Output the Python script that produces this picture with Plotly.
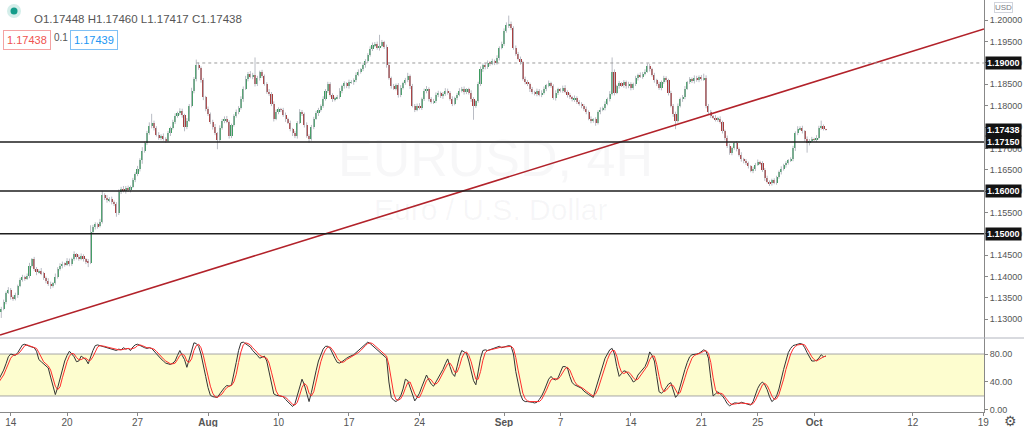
import plotly.graph_objects as go
from plotly.subplots import make_subplots

# EURUSD 4H closes, one per bar
closes = [
    1.1318, 1.1325, 1.1340, 1.1362, 1.1368, 1.1352, 1.1348, 1.1356, 1.1378, 1.1392,
    1.1398, 1.1395, 1.1402, 1.1425, 1.1440, 1.1418, 1.1410, 1.1412, 1.1408, 1.1396,
    1.1390, 1.1383, 1.1378, 1.1384, 1.1400, 1.1418, 1.1425, 1.1430, 1.1428, 1.1437,
    1.1429, 1.1440, 1.1452, 1.1446, 1.1442, 1.1448, 1.1440, 1.1436, 1.1432, 1.1505,
    1.1515, 1.1522, 1.1518, 1.1528, 1.1590, 1.1585, 1.1578, 1.1582, 1.1575, 1.1570,
    1.1548, 1.1598, 1.1605, 1.1600, 1.1608, 1.1602, 1.1610, 1.1625, 1.1640, 1.1652,
    1.1672, 1.1695, 1.1712, 1.1735, 1.1752, 1.1760, 1.1748, 1.1732, 1.1725, 1.1730,
    1.1722, 1.1718, 1.1735, 1.1748, 1.1762, 1.1775, 1.1782, 1.1788, 1.1778, 1.1750,
    1.1765, 1.1800, 1.1835, 1.1862, 1.1895, 1.1888, 1.1860, 1.1820, 1.1792, 1.1780,
    1.1762, 1.1750, 1.1735, 1.1720, 1.1748, 1.1765, 1.1770, 1.1762, 1.1728, 1.1755,
    1.1775, 1.1785, 1.1795, 1.1815, 1.1840, 1.1862, 1.1875, 1.1868, 1.1872, 1.1850,
    1.1865, 1.1878, 1.1870, 1.1850, 1.1832, 1.1828, 1.1805, 1.1770, 1.1785, 1.1792,
    1.1790, 1.1778, 1.1768, 1.1760, 1.1745, 1.1735, 1.1728, 1.1760, 1.1785, 1.1780,
    1.1755, 1.1730, 1.1722, 1.1750, 1.1770, 1.1782, 1.1790, 1.1800, 1.1815, 1.1835,
    1.1850, 1.1825, 1.1815, 1.1818, 1.1820, 1.1835, 1.1845, 1.1852, 1.1845, 1.1855,
    1.1855, 1.1860, 1.1872, 1.1880, 1.1885, 1.1895, 1.1905, 1.1918, 1.1932, 1.1942,
    1.1945, 1.1935, 1.1940, 1.1948, 1.1938, 1.1895, 1.1865, 1.1845, 1.1840, 1.1848,
    1.1825, 1.1842, 1.1852, 1.1860, 1.1870, 1.1845, 1.1800, 1.1790, 1.1800, 1.1795,
    1.1815, 1.1835, 1.1840, 1.1815, 1.1808, 1.1812, 1.1825, 1.1830, 1.1822, 1.1828,
    1.1835, 1.1830, 1.1815, 1.1805, 1.1818, 1.1825, 1.1835, 1.1840, 1.1832, 1.1838,
    1.1830, 1.1815, 1.1800, 1.1810, 1.1850, 1.1885, 1.1895, 1.1890, 1.1900, 1.1898,
    1.1905, 1.1900, 1.1912, 1.1935, 1.1945, 1.1975, 1.1988, 1.1992, 1.1982, 1.1935,
    1.1922, 1.1910, 1.1902, 1.1862, 1.1855, 1.1850, 1.1838, 1.1832, 1.1828, 1.1835,
    1.1825, 1.1830, 1.1840, 1.1848, 1.1852, 1.1845, 1.1818, 1.1830, 1.1838, 1.1835,
    1.1842, 1.1832, 1.1825, 1.1820, 1.1815, 1.1818, 1.1808, 1.1805, 1.1800, 1.1792,
    1.1785, 1.1770, 1.1765, 1.1768, 1.1760, 1.1785, 1.1790, 1.1795, 1.1805, 1.1815,
    1.1828, 1.1880, 1.1830, 1.1845, 1.1852, 1.1848, 1.1855, 1.1845, 1.1850, 1.1842,
    1.1850, 1.1865, 1.1872, 1.1868, 1.1875, 1.1880, 1.1892, 1.1885, 1.1872, 1.1860,
    1.1850, 1.1842, 1.1855, 1.1865, 1.1860, 1.1830, 1.1800, 1.1780, 1.1765, 1.1800,
    1.1815, 1.1820, 1.1840, 1.1855, 1.1862, 1.1858, 1.1865, 1.1860, 1.1868, 1.1862,
    1.1865, 1.1800, 1.1785, 1.1775, 1.1772, 1.1768, 1.1770, 1.1762, 1.1740, 1.1725,
    1.1705, 1.1690, 1.1700, 1.1712, 1.1698, 1.1685, 1.1675, 1.1670, 1.1665, 1.1658,
    1.1648, 1.1652, 1.1662, 1.1668, 1.1665, 1.1650, 1.1630, 1.1622, 1.1618, 1.1625,
    1.1620, 1.1632, 1.1645, 1.1652, 1.1660, 1.1665, 1.1672, 1.1675, 1.1700, 1.1735,
    1.1745, 1.1748, 1.1740, 1.1722, 1.1712, 1.1718, 1.1722, 1.1720, 1.1725, 1.1748,
    1.1752, 1.1745, 1.17438,
]
first_open = 1.1312

# wick lengths in pips above the body top / below the body bottom
wick_up = [
    5, 4, 6, 3, 7, 5, 4, 6, 3, 5,   6, 4, 5, 7, 3, 6, 4, 5, 8, 3,
    4, 6, 5, 3, 7, 4, 6, 5, 3, 6,   5, 4, 7, 3, 5, 6, 4, 3, 5, 15,
    6, 5, 4, 7, 10, 5, 6, 4, 5, 3,  4, 6, 5, 7, 4, 5, 3, 6, 4, 7,
    5, 8, 4, 6, 9, 21, 5, 4, 6, 3,  5, 4, 6, 3, 5, 7, 4, 6, 5, 3,
    6, 4, 7, 5, 13, 6, 4, 5, 3, 6,  4, 5, 7, 3, 6, 4, 5, 6, 4, 3,
    5, 6, 4, 7, 5, 8, 4, 6, 5, 41,  5, 4, 6, 3, 5, 7, 4, 5, 6, 4,
    3, 5, 6, 4, 5, 3, 6, 4, 7, 5,   4, 6, 3, 5, 4, 6, 5, 3, 7, 4,
    6, 5, 4, 3, 5, 6, 4, 5, 3, 6,   5, 4, 6, 5, 3, 6, 4, 5, 7, 6,
    4, 5, 26, 6, 4, 5, 7, 3, 6, 4,  5, 6, 4, 5, 7, 3, 6, 4, 5, 6,
    4, 5, 6, 3, 5, 4, 6, 5, 3, 4,   6, 5, 4, 7, 3, 5, 6, 4, 5, 3,
    4, 6, 5, 3, 6, 7, 4, 5, 6, 4,   5, 3, 6, 4, 5, 6, 7, 19, 5, 4,
    6, 4, 5, 3, 6, 5, 4, 6, 3, 5,   4, 6, 5, 3, 7, 4, 5, 6, 4, 3,
    5, 6, 4, 5, 3, 6, 4, 5, 3, 4,   6, 4, 5, 3, 5, 4, 6, 3, 5, 4,
    6, 33, 5, 4, 6, 3, 5, 4, 6, 5,  4, 5, 3, 6, 4, 5, 7, 6, 4, 5,
    3, 6, 4, 5, 4, 3, 5, 4, 6, 5,   4, 5, 6, 3, 5, 4, 6, 5, 3, 4,
    10, 6, 4, 5, 3, 6, 4, 5, 3, 4,  5, 6, 4, 3, 5, 4, 6, 3, 5, 4,
    3, 5, 4, 6, 3, 5, 4, 6, 3, 4,   5, 4, 3, 6, 4, 5, 3, 4, 6, 5,
    7, 4, 5, 3, 6, 4, 5, 3, 6, 5,   13, 4, 1,
]
wick_dn = [
    6, 15, 4, 5, 3, 6, 5, 4, 6, 3,  4, 5, 3, 6, 4, 5, 7, 3, 5, 4,
    6, 5, 7, 4, 3, 5, 4, 6, 5, 3,   5, 4, 3, 6, 5, 4, 5, 7, 10, 3,
    4, 5, 6, 3, 4, 6, 5, 4, 6, 5,   8, 4, 5, 3, 6, 4, 5, 3, 4, 5,
    6, 8, 5, 4, 3, 5, 6, 4, 5, 6,   4, 5, 3, 6, 4, 5, 3, 4, 6, 10,
    5, 3, 4, 6, 5, 4, 6, 7, 5, 4,   5, 6, 4, 22, 5, 4, 6, 3, 5, 4,
    4, 3, 5, 4, 6, 3, 5, 4, 6, 5,   4, 6, 5, 3, 4, 5, 6, 7, 4, 5,
    5, 4, 6, 3, 5, 6, 4, 5, 3, 4,   6, 5, 9, 4, 5, 3, 6, 4, 5, 3,
    5, 4, 6, 5, 3, 4, 6, 5, 4, 5,   4, 6, 5, 3, 5, 4, 6, 5, 3, 4,
    5, 4, 6, 3, 5, 6, 4, 5, 3, 4,   6, 5, 4, 3, 5, 6, 4, 5, 3, 4,
    5, 4, 6, 5, 3, 4, 6, 5, 4, 6,   5, 4, 3, 6, 4, 5, 3, 4, 6, 5,
    4, 6, 33, 5, 3, 4, 6, 5, 4, 5,  3, 5, 4, 6, 3, 5, 4, 6, 5, 4,
    5, 4, 6, 3, 5, 4, 6, 5, 4, 6,   3, 5, 4, 6, 5, 3, 4, 6, 5, 4,
    5, 3, 6, 4, 5, 6, 4, 5, 6, 4,   5, 4, 6, 5, 7, 4, 5, 3, 6, 4,
    5, 4, 6, 3, 5, 4, 6, 5, 4, 6,   5, 4, 6, 3, 5, 4, 3, 5, 4, 6,
    4, 5, 6, 4, 5, 6, 4, 6, 20, 5,  4, 6, 5, 3, 4, 5, 6, 4, 5, 3,
    4, 6, 5, 4, 3, 5, 6, 4, 5, 6,   4, 5, 6, 3, 5, 4, 6, 5, 4, 5,
    4, 6, 5, 3, 4, 5, 6, 4, 6, 5,   4, 5, 3, 6, 4, 5, 3, 4, 5, 6,
    4, 3, 5, 6, 22, 5, 4, 3, 5, 4,  4, 3, 2,
]

# Stochastic %K (black) and %D (red)
stoch_k = [
    44, 50, 57, 66, 76, 80, 79, 78, 82, 88,  93, 94, 92, 91, 90, 89, 84, 72, 69, 66,
    63, 60, 47, 33, 22, 32, 45, 60, 70, 78,  84, 80, 76, 69, 70, 77, 74, 72, 66, 76,
    85, 92, 93, 92, 91, 90, 88, 88, 87, 86,  85, 87, 86, 89, 87, 88, 85, 90, 93, 94,
    92, 90, 89, 88, 89, 88, 84, 80, 76, 73,  70, 67, 66, 65, 67, 70, 78, 85, 78, 72,
    61, 72, 86, 96, 95, 91, 80, 62, 48, 32,  21, 19, 18, 18, 23, 28, 32, 35, 34, 36,
    50, 68, 85, 96, 97, 95, 93, 90, 85, 82,  78, 74, 75, 77, 70, 55, 38, 23, 21, 20,
    20, 19, 15, 12, 8, 5, 9, 20, 33, 44,     36, 24, 12, 25, 42, 56, 70, 80, 87, 91,
    91, 88, 80, 74, 68, 67, 69, 72, 74, 76,  77, 79, 82, 85, 89, 92, 95, 97, 95, 92,
    90, 87, 83, 80, 77, 74, 40, 18, 14, 12,  15, 20, 30, 44, 42, 33, 22, 13, 18, 24,
    33, 42, 50, 43, 37, 34, 40, 46, 51, 58,  66, 73, 62, 52, 48, 62, 76, 85, 83, 81,
    70, 55, 42, 36, 55, 74, 85, 86, 85, 86,  88, 89, 90, 91, 89, 90, 91, 92, 91, 80,
    55, 36, 22, 14, 12, 12, 12, 11, 10, 11,  15, 20, 27, 36, 44, 48, 44, 43, 46, 54,
    62, 62, 60, 48, 39, 36, 34, 33, 31, 27,  24, 22, 20, 18, 30, 42, 52, 63, 74, 80,
    86, 88, 80, 62, 48, 52, 56, 55, 51, 46,  40, 42, 50, 54, 58, 62, 70, 83, 78, 70,
    48, 26, 24, 27, 32, 37, 39, 28, 18, 22,  35, 46, 58, 68, 76, 79, 79, 80, 81, 84,
    86, 84, 74, 45, 20, 23, 26, 23, 20, 15,  9, 6, 8, 10, 10, 9, 11, 10, 9, 8,
    7, 12, 22, 31, 37, 40, 36, 29, 19, 12,   15, 20, 30, 45, 58, 70, 82, 88, 92, 93,
    94, 95, 94, 89, 82, 75, 70, 70, 71, 74,  79, 76, 77,
]
stoch_d = [
    40, 45, 50, 58, 66, 74, 78, 79, 80, 83,  88, 92, 93, 92, 91, 90, 88, 82, 75, 69,
    66, 63, 57, 47, 34, 29, 33, 46, 58, 69,  77, 81, 80, 75, 72, 72, 74, 74, 71, 71,
    76, 84, 90, 92, 92, 91, 90, 89, 88, 87,  86, 86, 86, 87, 87, 88, 87, 88, 89, 92,
    93, 92, 90, 89, 89, 88, 87, 84, 80, 76,  73, 70, 68, 66, 66, 67, 72, 78, 80, 78,
    70, 68, 73, 85, 92, 94, 89, 78, 63, 47,  34, 24, 19, 18, 20, 23, 28, 32, 34, 35,
    40, 51, 68, 83, 93, 96, 95, 93, 89, 86,  82, 78, 76, 75, 74, 67, 54, 39, 27, 21,
    20, 20, 18, 15, 12, 8, 7, 11, 21, 32,    38, 35, 24, 20, 26, 41, 56, 69, 79, 86,
    90, 90, 86, 81, 74, 70, 68, 69, 72, 74,  76, 77, 79, 82, 85, 89, 92, 95, 96, 95,
    92, 90, 87, 83, 80, 77, 64, 44, 24, 15,  14, 16, 22, 31, 39, 40, 32, 23, 18, 18,
    25, 33, 42, 45, 43, 38, 37, 40, 46, 52,  58, 66, 67, 62, 54, 54, 62, 74, 81, 83,
    78, 69, 56, 44, 44, 55, 71, 82, 85, 86,  86, 88, 89, 90, 90, 90, 90, 91, 91, 88,
    75, 57, 38, 24, 16, 13, 12, 12, 11, 11,  12, 15, 21, 28, 36, 43, 45, 45, 44, 48,
    54, 59, 61, 57, 49, 41, 36, 34, 33, 30,  27, 24, 22, 20, 23, 30, 41, 52, 63, 72,
    80, 85, 85, 77, 63, 54, 52, 54, 54, 51,  46, 43, 44, 49, 54, 58, 63, 72, 77, 77,
    65, 48, 33, 26, 28, 32, 36, 35, 28, 23,  25, 34, 46, 57, 67, 74, 78, 79, 80, 82,
    84, 85, 81, 68, 46, 29, 23, 24, 23, 19,  15, 10, 8, 8, 9, 10, 10, 10, 10, 9,
    8, 9, 14, 22, 30, 36, 38, 35, 28, 20,    15, 16, 22, 32, 44, 58, 70, 80, 87, 91,
    93, 94, 94, 93, 88, 82, 76, 72, 70, 72,  75, 76, 77,
]

levels = [1.1715, 1.1600, 1.1500]
resistance = 1.1900
res_start_bar = 85
trend_x = [1.45, 420.3]
trend_y = [1.1263, 1.19796]
last_price = 1.17438

tick_bars = [6, 30, 60, 90, 120, 150, 180, 216, 240, 270, 300, 324, 348, 390, 420]
tick_text = ['14', '20', '27', '<b>Aug</b>', '10', '17', '24', '<b>Sep</b>', '7', '14',
             '21', '25', '<b>Oct</b>', '12', '19']
price_ticks = [1.130, 1.135, 1.140, 1.145, 1.150, 1.155, 1.160, 1.165, 1.170, 1.175,
               1.180, 1.185, 1.190, 1.195, 1.200]
stoch_ticks = [0, 40, 80]

n = min(len(closes), len(wick_up), len(wick_dn))
bars = list(range(1, n + 1))
opens = [first_open] + closes[:n - 1]
tops = [max(o, c) for o, c in zip(opens, closes[:n])]
bots = [min(o, c) for o, c in zip(opens, closes[:n])]
highs = [t + u / 10000 for t, u in zip(tops, wick_up)]
lows = [b - d / 10000 for b, d in zip(bots, wick_dn)]
body_h = [max(t - b, 0.00004) for t, b in zip(tops, bots)]
body_col = ['#3d9b5f' if c >= o else '#a83a3a' for o, c in zip(opens, closes[:n])]

wx, wy = [], []
for i, h, l in zip(bars, highs, lows):
    wx += [i, i, None]
    wy += [l, h, None]

W, H = 1024, 427
PW, PH = 984, 412
lower_frac = 74 / PH
axis_font = dict(size=9, color='#555555')

fig = make_subplots(rows=2, cols=1, shared_xaxes=True, vertical_spacing=0,
                    row_heights=[1 - lower_frac, lower_frac])

fig.add_trace(go.Scatter(x=wx, y=wy, mode='lines', line=dict(color='#b9bcc4', width=1),
                         hoverinfo='skip'), row=1, col=1)
fig.add_trace(go.Bar(x=bars, y=body_h, base=bots, width=0.9,
                     marker=dict(color=body_col, line=dict(width=0))), row=1, col=1)
fig.add_trace(go.Scatter(x=trend_x, y=trend_y, mode='lines',
                         line=dict(color='#b2222a', width=1.6)), row=1, col=1)

fig.add_trace(go.Scatter(x=bars[:len(stoch_k)], y=stoch_k[:n], mode='lines',
                         line=dict(color='#333333', width=1)), row=2, col=1)
fig.add_trace(go.Scatter(x=bars[:len(stoch_d)], y=stoch_d[:n], mode='lines',
                         line=dict(color='#ff2d2d', width=1)), row=2, col=1)

shapes = []
# stochastic band
shapes.append(dict(type='rect', xref='x2 domain', x0=0, x1=1, yref='y2', y0=20, y1=80,
                   fillcolor='#fdfdcf', line=dict(width=0), layer='below'))
for lv in [20, 80]:
    shapes.append(dict(type='line', xref='x2 domain', x0=0, x1=1, yref='y2', y0=lv, y1=lv,
                       line=dict(color='#a6a6a6', width=1), layer='below'))
# pane separator
shapes.append(dict(type='line', xref='paper', x0=0, x1=W / PW, yref='paper',
                   y0=lower_frac, y1=lower_frac, line=dict(color='#b2b5be', width=1)))
# horizontal levels
for lv in levels:
    shapes.append(dict(type='line', xref='x domain', x0=0, x1=1, yref='y', y0=lv, y1=lv,
                       line=dict(color='#1e1e1e', width=1.5)))
shapes.append(dict(type='line', xref='x', x0=res_start_bar, x1=420.3, yref='y',
                   y0=resistance, y1=resistance,
                   line=dict(color='#9a9a9a', width=1, dash='dot')))


def px_circle(cx, cy, r, color):
    return dict(type='circle', xref='paper', yref='paper',
                x0=(cx - r) / PW, x1=(cx + r) / PW,
                y0=1 - (cy + r) / PH, y1=1 - (cy - r) / PH,
                fillcolor=color, line=dict(width=0))


shapes.append(px_circle(14, 11, 7, '#d4eeea'))
shapes.append(px_circle(14, 11, 3.5, '#149c8a'))

ann = []
ann.append(dict(text='EURUSD, 4H', xref='paper', yref='paper', x=495 / PW, y=1 - 127 / PH,
                showarrow=False, font=dict(size=52, color='rgba(120,123,134,0.06)')))
ann.append(dict(text='Euro / U.S. Dollar', xref='paper', yref='paper', x=490 / PW,
                y=1 - 209 / PH, showarrow=False,
                font=dict(size=30, color='rgba(120,123,134,0.06)')))
ann.append(dict(text='O1.17448 H1.17460 L1.17417 C1.17438', xref='paper', yref='paper',
                x=32 / PW, y=1 - 11 / PH, xanchor='left', showarrow=False,
                font=dict(size=11.5, color='#555555')))
ann.append(dict(text='1.17438', xref='paper', yref='paper', x=3 / PW, y=1 - 30 / PH,
                xanchor='left', showarrow=False, bgcolor='white', bordercolor='#f4a3a3',
                borderwidth=1, borderpad=3, font=dict(size=11, color='#ef5350')))
ann.append(dict(text='0.1', xref='paper', yref='paper', x=52 / PW, y=1 - 30 / PH,
                xanchor='left', showarrow=False, font=dict(size=10, color='#555555')))
ann.append(dict(text='1.17439', xref='paper', yref='paper', x=70 / PW, y=1 - 30 / PH,
                xanchor='left', showarrow=False, bgcolor='white', bordercolor='#7fc0f5',
                borderwidth=1, borderpad=3, font=dict(size=11, color='#2196f3')))
for lv in [resistance] + levels + [last_price]:
    ann.append(dict(text='<b>%.5f</b>' % lv, xref='paper', yref='y', x=1, y=lv,
                    xanchor='left', xshift=1, showarrow=False, bgcolor='#131313',
                    borderpad=1, font=dict(size=9, color='white')))
ann.append(dict(text='USD', xref='paper', yref='paper', x=1 + 19 / PW, y=1 - 8 / PH,
                xanchor='center', yanchor='middle', showarrow=False, bgcolor='white',
                bordercolor='#d1d4dc', borderwidth=1, borderpad=0,
                font=dict(size=8, color='#787b86')))
ann.append(dict(text='⚙', xref='paper', yref='paper', x=1 + 26 / PW, y=-9 / PH,
                xanchor='center', yanchor='middle', showarrow=False,
                font=dict(size=14, color='#555555')))

fig.update_layout(
    width=W, height=H,
    margin=dict(l=0, r=W - PW, t=0, b=H - PH, autoexpand=False),
    plot_bgcolor='white', paper_bgcolor='white',
    showlegend=False, bargap=0,
    font=dict(family='Liberation Sans, Arial, sans-serif', color='#555555'),
    shapes=shapes, annotations=ann,
)
fig.update_xaxes(range=[1.45, 420.3], showgrid=False, zeroline=False, automargin=False)
fig.update_xaxes(showticklabels=False, row=1, col=1)
fig.update_xaxes(tickvals=tick_bars, ticktext=tick_text, ticks='outside', ticklen=3,
                 tickcolor='#888888', showline=True, linecolor='#888888',
                 ticklabelstandoff=-2,
                 tickfont=dict(size=10, color='#555555'), row=2, col=1)
fig.update_yaxes(side='right', range=[1.12560, 1.20475], tickvals=price_ticks,
                 ticktext=['%.5f' % v for v in price_ticks], ticks='outside', ticklen=3,
                 tickcolor='#888888', showline=True, linecolor='#888888', showgrid=False,
                 zeroline=False, automargin=False, tickfont=axis_font, row=1, col=1)
fig.update_yaxes(side='right', range=[-2.9, 102.9], tickvals=stoch_ticks,
                 ticktext=['%.2f' % v for v in stoch_ticks], ticks='outside', ticklen=3,
                 tickcolor='#888888', showline=True, linecolor='#888888', showgrid=False,
                 zeroline=False, automargin=False, tickfont=axis_font, row=2, col=1)

fig.write_html('out.html', config={'displayModeBar': False},
               post_script="document.body.style.margin='0px';"
                           "document.body.style.overflow='hidden';")
